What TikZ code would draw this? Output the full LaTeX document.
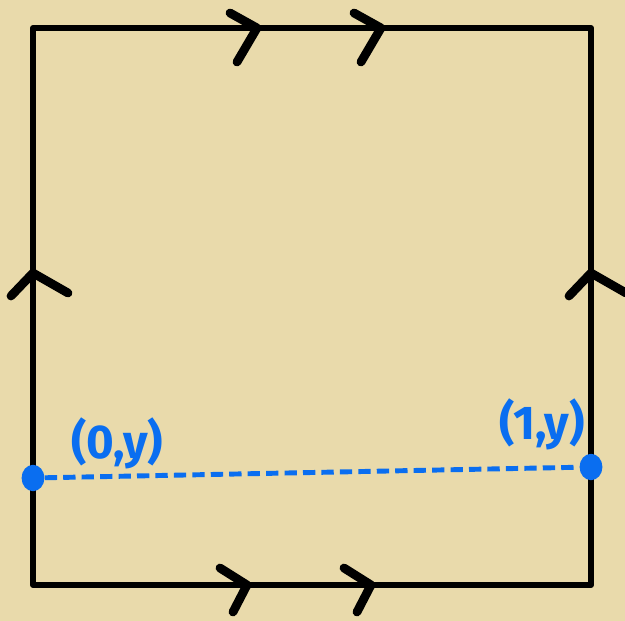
\documentclass[tikz,border=0pt]{standalone}
\usepackage{fontspec}
\usetikzlibrary{shapes.geometric}
\setmainfont{Fira Sans}
\definecolor{paper}{HTML}{E9DAAB}
\definecolor{ink}{HTML}{0A6EF0}
\begin{document}
\begin{tikzpicture}[x=0.02cm, y=-0.02cm, line cap=round, line join=round,
		edge/.style={line width=3.4pt, black},
		chev/.style={line width=5pt, black},
		dot/.style={ellipse, fill=ink, inner sep=0pt, minimum width=13pt, minimum height=15pt},
		lab/.style={text=ink, font=\fontsize{27}{30}\selectfont\bfseries}]
	\fill[paper] (0,0) rectangle (625,621);
	\useasboundingbox (0,0) rectangle (625,621);
	% the square
	\coordinate (tl) at (33,28);
	\coordinate (tr) at (591,28);
	\coordinate (br) at (591,585);
	\coordinate (bl) at (33,585);
	\draw[edge] (tl) -- (tr) -- (br) -- (bl) -- cycle;
	% identifications
	\foreach \x in {0,124} {
		\draw[chev] (230+\x,13) -- (257+\x,28) -- (237+\x,62);
		\draw[chev] (220+\x,568) -- (247+\x,585) -- (233+\x,612);
	}
	\foreach \x in {0,558} {
		\draw[chev] (11+\x,296) -- (33+\x,273) -- (68+\x,293);
	}
	% the segment at height y
	\node[dot] (p0) at (33,478) {};
	\node[dot] (p1) at (591,467) {};
	\draw[ink, line width=2.8pt, dash pattern=on 7pt off 3.5pt, line cap=butt] (p0) -- (p1);
	\node[lab] (l0) at (117,443) {(0,y)};
	\node[lab] (l1) at (542,424) {(1,y)};
\end{tikzpicture}
\end{document}
